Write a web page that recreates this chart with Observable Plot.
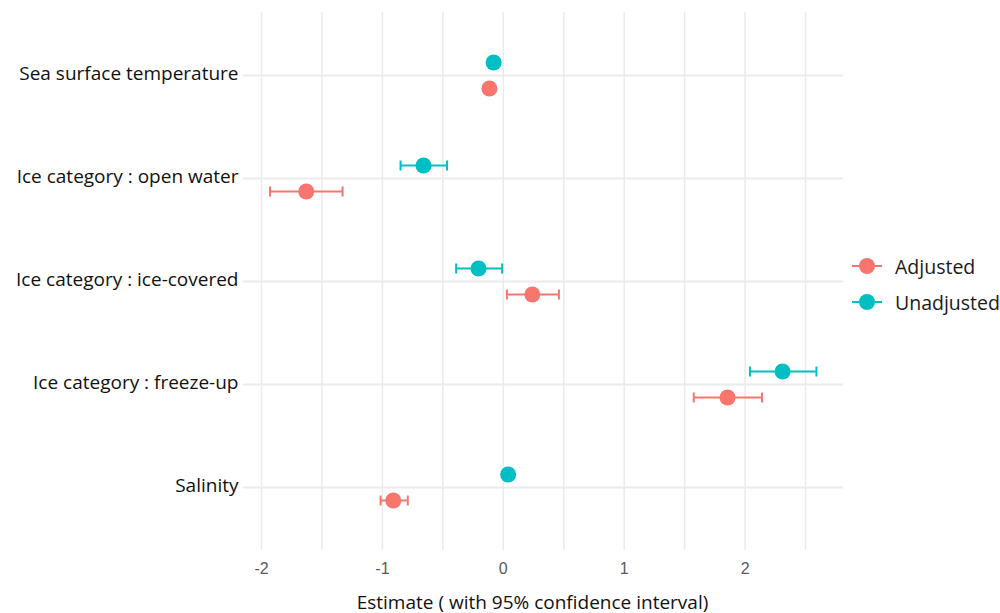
<!DOCTYPE html>
<html>
<head>
<meta charset="utf-8">
<script src="https://cdn.jsdelivr.net/npm/d3@7"></script>
<script src="https://cdn.jsdelivr.net/npm/@observablehq/plot@0.6"></script>
<style>
  html, body { margin: 0; padding: 0; background: #fff; }
  #wrap { position: relative; width: 1000px; height: 613px; }
  #legend { position: absolute; left: 850px; top: 248px; font-family: "Open Sans", sans-serif; font-size: 19.5px; color: #1a1a1a; }
  #legend .item { display: flex; align-items: center; height: 36px; }
  #legend svg { margin-right: 11px; }
</style>
</head>
<body>
<div id="wrap"><div id="chart"></div><div id="legend"></div></div>
<script>
const categories = ["Sea surface temperature", "Ice category : open water", "Ice category : ice-covered", "Ice category : freeze-up", "Salinity"];
const series = ["Adjusted", "Unadjusted"];
const colors = ["#F8766D", "#00BFC4"];
const adjEst  = [-0.115, -1.63, 0.24, 1.855, -0.91];
const adjLow  = [-0.14, -1.93, 0.03, 1.575, -1.015];
const adjHigh = [-0.09, -1.33, 0.46, 2.14, -0.79];
const unadjEst  = [-0.08, -0.66, -0.205, 2.31, 0.04];
const unadjLow  = [-0.10, -0.85, -0.39, 2.04, 0.02];
const unadjHigh = [-0.06, -0.465, -0.01, 2.59, 0.06];
const xTicks = [-2, -1, 0, 1, 2];
const xGrid = [-2, -1.5, -1, -0.5, 0, 0.5, 1, 1.5, 2, 2.5];

const adj = categories.map((c, i) => ({cat: c, est: adjEst[i], lo: adjLow[i], hi: adjHigh[i], s: "Adjusted"}));
const unadj = categories.map((c, i) => ({cat: c, est: unadjEst[i], lo: unadjLow[i], hi: unadjHigh[i], s: "Unadjusted"}));

const capSymbol = {draw(ctx, size) { const r = Math.sqrt(size / Math.PI); ctx.moveTo(0, -r); ctx.lineTo(0, r); }};

function seriesMarks(data, color, dy) {
  return [
    Plot.ruleY(data, {y: "cat", x1: "lo", x2: "hi", stroke: color, strokeWidth: 2, dy}),
    Plot.dot(data, {y: "cat", x: "lo", symbol: capSymbol, r: 5, stroke: color, strokeWidth: 2, fill: "none", dy}),
    Plot.dot(data, {y: "cat", x: "hi", symbol: capSymbol, r: 5, stroke: color, strokeWidth: 2, fill: "none", dy}),
    Plot.dot(data, {y: "cat", x: "est", r: 8, fill: color, stroke: "none", dy})
  ];
}

const chart = Plot.plot({
  width: 845,
  height: 613,
  marginLeft: 243,
  marginRight: 2,
  marginTop: 12,
  marginBottom: 63,
  style: {fontFamily: "Open Sans, sans-serif", background: "#fff"},
  x: {domain: [-2.149, 2.814]},
  y: {type: "point", domain: categories, padding: 0.593},
  marks: [
    Plot.gridX(xGrid, {stroke: "#ebebeb", strokeOpacity: 1, strokeWidth: 1.5}),
    Plot.gridY(categories, {stroke: "#ebebeb", strokeOpacity: 1, strokeWidth: 2}),
    Plot.axisX(xTicks, {tickSize: 0, tickPadding: 12, fontSize: 16, fill: "#5a5a5a", fontFamily: "Liberation Sans, Arial, sans-serif",
      tickFormat: d => String(d),
      label: "Estimate ( with 95% confidence interval)", labelAnchor: "center", labelArrow: "none", labelOffset: 58}),
    Plot.axisY(categories, {tickSize: 0, tickPadding: 5, fontSize: 19, fill: "#111", label: null, dy: -1.5}),
    ...seriesMarks(unadj, colors[1], -13),
    ...seriesMarks(adj, colors[0], 13)
  ]
});
document.getElementById("chart").appendChild(chart);
chart.querySelectorAll("g[aria-label='x-axis label'] text").forEach(t => {
  t.setAttribute("font-size", "19"); t.setAttribute("fill", "#111"); t.setAttribute("font-family", "Open Sans, sans-serif");
  t.setAttribute("dx", "-11");
});

const legend = d3.select("#legend");
series.forEach((s, i) => {
  const item = legend.append("div").attr("class", "item");
  const svg = item.append("svg").attr("width", 34).attr("height", 20);
  svg.append("line").attr("x1", 2).attr("x2", 32).attr("y1", 10).attr("y2", 10).attr("stroke", colors[i]).attr("stroke-width", 2);
  svg.append("circle").attr("cx", 17).attr("cy", 10).attr("r", 8).attr("fill", colors[i]);
  item.append("span").text(s);
});
</script>
</body>
</html>
